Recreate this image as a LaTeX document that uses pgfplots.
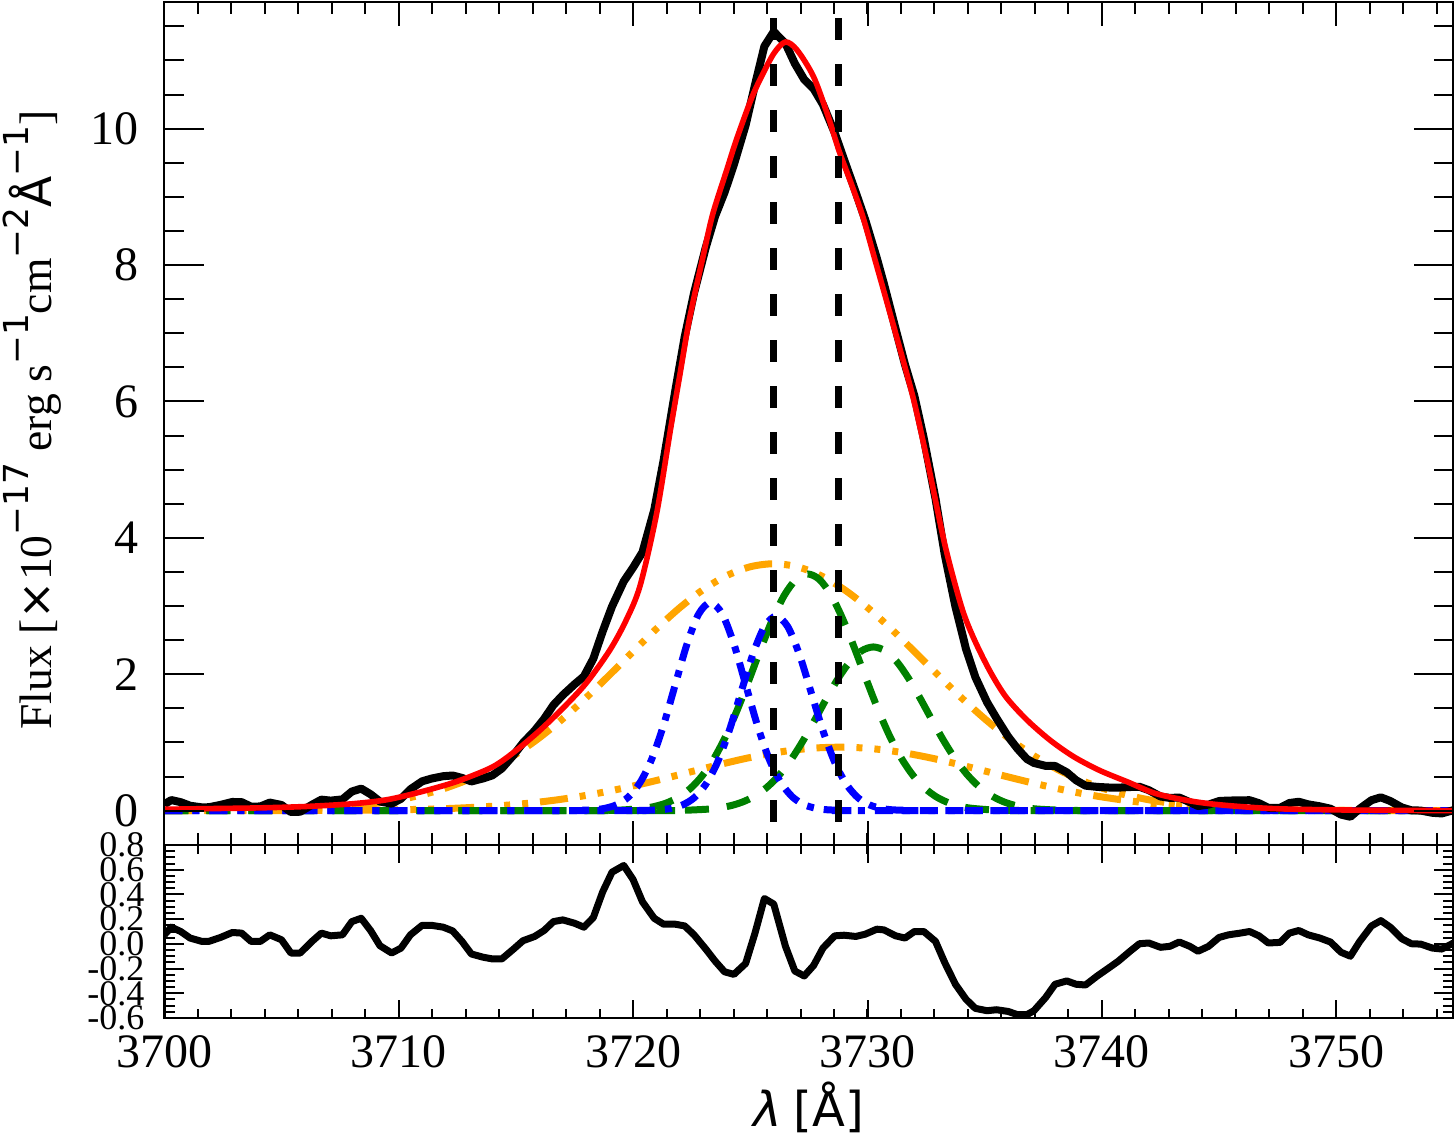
\documentclass[border=0pt]{standalone}
\usepackage{fontspec}
\setmainfont{Liberation Serif}
\newfontfamily\dv{DejaVu Sans}
\usepackage{pgfplots}
\pgfplotsset{compat=1.18}
\definecolor{cblue}{RGB}{0,0,255}
\definecolor{cgreen}{RGB}{0,128,0}
\definecolor{corange}{RGB}{255,165,0}
\definecolor{cred}{RGB}{255,0,0}
\newcommand{\sups}[1]{\raisebox{0.5em}{\fontsize{8.6}{9}\selectfont\dv #1}}
\pgfplotsset{
  base/.style={scale only axis, width=322.3pt, xmin=3700, xmax=3755,
    axis line style={line width=0.6pt}, every tick/.style={black, line width=0.5pt},
    /pgf/number format/assume math mode=true, /pgf/number format/1000 sep={},
    tick align=inside},
  bluestyle/.style={cblue, line width=1.75pt, smooth, dash pattern=on 4.5pt off 2.5pt on 1.75pt off 2.5pt},
  greenstyle/.style={cgreen, line width=1.75pt, smooth, dash pattern=on 6pt off 4.5pt},
  orangestyle/.style={corange, line width=1.75pt, smooth, dash pattern=on 7pt off 3pt on 1.5pt off 3pt on 1.5pt off 3pt on 1.5pt off 3pt},
}
\begin{document}
\begin{tikzpicture}
% ---------- lower panel (residuals) ----------
\begin{axis}[base, at={(0pt,0pt)}, anchor=south west, height=43.25pt,
  ymin=-0.6, ymax=0.8, ytick=\empty,
  xtick={3700,3710,3720,3730,3740,3750}, minor xtick={3700,3701.428571,...,3755},
  major tick length=4.5pt, minor tick length=2.25pt,
  xticklabel style={font=\fontsize{12}{12}\selectfont, anchor=base, inner sep=0pt, yshift=-12.25pt},
  axis on top]
\addplot[black, line width=1.75pt, line join=round] coordinates {
(3700.0,0.073)(3700.3,0.135)(3700.7,0.10)(3701.1,0.047)(3701.6,0.02)(3701.9,0.02)(3702.4,0.052)(3702.9,0.092)(3703.3,0.087)(3703.7,0.02)(3704.1,0.02)(3704.5,0.073)(3705.0,0.033)(3705.4,-0.074)(3705.8,-0.074)(3706.3,0.02)(3706.7,0.087)(3707.1,0.065)(3707.6,0.073)(3708.0,0.18)(3708.4,0.207)(3708.8,0.108)(3709.2,-0.015)(3709.7,-0.074)(3710.1,-0.034)(3710.5,0.073)(3711.0,0.15)(3711.4,0.15)(3711.9,0.135)(3712.3,0.105)(3712.7,0.02)(3713.1,-0.082)(3713.6,-0.108)(3714.0,-0.122)(3714.4,-0.122)(3714.9,-0.042)(3715.3,0.025)(3715.8,0.06)(3716.2,0.108)(3716.6,0.18)(3717.0,0.194)(3717.5,0.167)(3717.9,0.135)(3718.3,0.212)(3718.7,0.42)(3719.1,0.58)(3719.6,0.634)(3720.0,0.52)(3720.4,0.34)(3720.9,0.207)(3721.3,0.159)(3721.8,0.159)(3722.2,0.145)(3722.6,0.073)(3723.1,-0.042)(3723.5,-0.14)(3723.9,-0.226)(3724.3,-0.247)(3724.8,-0.159)(3725.2,0.087)(3725.6,0.367)(3726.0,0.322)(3726.5,-0.02)(3726.9,-0.22)(3727.3,-0.26)(3727.7,-0.175)(3728.1,-0.034)(3728.6,0.065)(3729.0,0.07)(3729.5,0.06)(3729.9,0.078)(3730.4,0.119)(3730.7,0.113)(3731.2,0.065)(3731.6,0.047)(3732.0,0.1)(3732.4,0.1)(3732.9,0.02)(3733.3,-0.154)(3733.75,-0.327)(3734.2,-0.448)(3734.6,-0.522)(3735.1,-0.541)(3735.5,-0.533)(3736.0,-0.547)(3736.4,-0.573)(3736.8,-0.573)(3737.1,-0.541)(3737.6,-0.434)(3738.0,-0.327)(3738.5,-0.30)(3738.9,-0.327)(3739.3,-0.333)(3739.8,-0.26)(3740.3,-0.194)(3740.7,-0.14)(3741.2,-0.06)(3741.6,0.001)(3742.0,0.007)(3742.5,-0.028)(3742.9,-0.02)(3743.3,0.015)(3743.75,-0.02)(3744.1,-0.06)(3744.55,-0.02)(3745.0,0.052)(3745.4,0.073)(3745.9,0.087)(3746.3,0.10)(3746.7,0.065)(3747.1,0.007)(3747.6,0.012)(3748.0,0.087)(3748.4,0.108)(3748.8,0.073)(3749.3,0.047)(3749.75,0.015)(3750.2,-0.068)(3750.6,-0.10)(3751.0,0.02)(3751.5,0.145)(3751.9,0.188)(3752.3,0.135)(3752.8,0.041)(3753.2,0.001)(3753.6,-0.002)(3754.1,-0.034)(3754.5,-0.042)(3755.0,0.007)
};
\end{axis}
\begin{axis}[base, at={(0pt,0pt)}, anchor=south west, height=43.25pt,
  ymin=-0.6, ymax=0.8, xtick=\empty,
  ytick={-0.6,-0.4,-0.2,0,0.2,0.4,0.6,0.8},
  yticklabels={-0.6,-0.4,-0.2,0.0,0.2,0.4,0.6,0.8},
  minor ytick={-0.6,-0.55,...,0.8},
  major tick length=5pt, minor tick length=2.7pt,
  yticklabel style={font=\fontsize{9}{9}\selectfont, anchor=east, inner sep=0pt, xshift=-4.8pt}]
\end{axis}
% ---------- upper panel ----------
\begin{axis}[base, at={(0pt,43.25pt)}, anchor=south west, height=210.8pt,
  ymin=-0.504, ymax=11.86, ytick=\empty,
  xtick={3700,3710,3720,3730,3740,3750}, xticklabels={}, minor xtick={3700,3701.428571,...,3755},
  major tick length=6pt, minor tick length=3.1pt, axis on top]
% orange broad components
\addplot[orangestyle] coordinates {
(3700,0.001)(3702,0.003)(3704,0.010)(3706,0.027)(3707,0.044)(3708,0.069)(3709,0.106)(3710,0.159)(3711,0.232)(3712,0.331)(3713,0.460)(3714,0.624)(3715,0.826)(3716,1.068)(3717,1.347)(3718,1.657)(3719,1.991)(3720,2.333)(3721,2.668)(3722,2.978)(3723,3.243)(3724,3.447)(3725,3.576)(3726,3.62)(3727,3.576)(3728,3.447)(3729,3.243)(3730,2.978)(3731,2.668)(3732,2.333)(3733,1.991)(3734,1.657)(3735,1.347)(3736,1.068)(3737,0.826)(3738,0.624)(3739,0.460)(3740,0.331)(3741,0.232)(3742,0.159)(3743,0.106)(3744,0.069)(3745,0.044)(3746,0.027)(3748,0.010)(3750,0.003)(3752,0.001)(3755,0)
};
\addplot[orangestyle] coordinates {
(3700,0)(3702.8,0.0002)(3704.8,0.0008)(3706.8,0.0025)(3708.8,0.007)(3709.8,0.011)(3710.8,0.018)(3711.8,0.027)(3712.8,0.041)(3713.8,0.060)(3714.8,0.085)(3715.8,0.118)(3716.8,0.160)(3717.8,0.212)(3718.8,0.274)(3719.8,0.346)(3720.8,0.426)(3721.8,0.511)(3722.8,0.599)(3723.8,0.685)(3724.8,0.765)(3725.8,0.833)(3726.8,0.886)(3727.8,0.919)(3728.8,0.93)(3729.8,0.919)(3730.8,0.886)(3731.8,0.833)(3732.8,0.765)(3733.8,0.685)(3734.8,0.599)(3735.8,0.511)(3736.8,0.426)(3737.8,0.346)(3738.8,0.274)(3739.8,0.212)(3740.8,0.160)(3741.8,0.118)(3742.8,0.085)(3743.8,0.060)(3744.8,0.041)(3745.8,0.027)(3746.8,0.018)(3747.8,0.011)(3748.8,0.007)(3750.8,0.0025)(3752.8,0.0008)(3755,0)
};
% green components
\addplot[greenstyle] coordinates {
(3700,0)(3717.45,0)(3718.45,0.002)(3719.45,0.008)(3720.45,0.034)(3720.95,0.064)(3721.45,0.116)(3721.95,0.199)(3722.45,0.327)(3722.95,0.512)(3723.45,0.765)(3723.95,1.090)(3724.45,1.482)(3724.95,1.922)(3725.45,2.378)(3725.95,2.805)(3726.45,3.157)(3726.95,3.389)(3727.45,3.47)(3727.95,3.389)(3728.45,3.157)(3728.95,2.805)(3729.45,2.378)(3729.95,1.922)(3730.45,1.482)(3730.95,1.090)(3731.45,0.765)(3731.95,0.512)(3732.45,0.327)(3732.95,0.199)(3733.45,0.116)(3733.95,0.064)(3734.45,0.034)(3735.45,0.008)(3736.45,0.002)(3737.45,0)(3755,0)
};
\addplot[greenstyle] coordinates {
(3700,0)(3720.25,0)(3721.25,0.001)(3722.25,0.006)(3723.25,0.023)(3723.75,0.044)(3724.25,0.080)(3724.75,0.138)(3725.25,0.226)(3725.75,0.354)(3726.25,0.529)(3726.75,0.754)(3727.25,1.025)(3727.75,1.329)(3728.25,1.644)(3728.75,1.940)(3729.25,2.184)(3729.75,2.344)(3730.25,2.40)(3730.75,2.344)(3731.25,2.184)(3731.75,1.940)(3732.25,1.644)(3732.75,1.329)(3733.25,1.025)(3733.75,0.754)(3734.25,0.529)(3734.75,0.354)(3735.25,0.226)(3735.75,0.138)(3736.25,0.080)(3736.75,0.044)(3737.25,0.023)(3738.25,0.006)(3739.25,0.001)(3740.25,0)(3755,0)
};
% blue components
\addplot[bluestyle] coordinates {
(3700,0)(3716.3,0)(3717.3,0.001)(3718.3,0.012)(3718.8,0.034)(3719.3,0.087)(3719.8,0.200)(3720.3,0.413)(3720.8,0.760)(3721.3,1.254)(3721.8,1.850)(3722.3,2.443)(3722.8,2.885)(3723.3,3.05)(3723.8,2.885)(3724.3,2.443)(3724.8,1.850)(3725.3,1.254)(3725.8,0.760)(3726.3,0.413)(3726.8,0.200)(3727.3,0.087)(3727.8,0.034)(3728.3,0.012)(3729.3,0.001)(3730.3,0)(3755,0)
};
\addplot[bluestyle] coordinates {
(3700,0)(3719.1,0)(3720.1,0.001)(3721.1,0.011)(3721.6,0.032)(3722.1,0.082)(3722.6,0.187)(3723.1,0.386)(3723.6,0.710)(3724.1,1.171)(3724.6,1.729)(3725.1,2.283)(3725.6,2.696)(3726.1,2.85)(3726.6,2.696)(3727.1,2.283)(3727.6,1.729)(3728.1,1.171)(3728.6,0.710)(3729.1,0.386)(3729.6,0.187)(3730.1,0.082)(3730.6,0.032)(3731.1,0.011)(3732.1,0.001)(3733.1,0)(3755,0)
};
% observed spectrum
\addplot[black, line width=2pt, line join=round] coordinates {
(3700.0,0.093)(3700.3,0.155)(3700.7,0.124)(3701.1,0.072)(3701.6,0.048)(3701.9,0.05)(3702.4,0.084)(3702.9,0.127)(3703.3,0.124)(3703.7,0.059)(3704.1,0.061)(3704.5,0.118)(3705.0,0.083)(3705.4,-0.02)(3705.8,-0.016)(3706.3,0.086)(3706.7,0.161)(3707.1,0.147)(3707.6,0.165)(3708.0,0.28)(3708.4,0.323)(3708.8,0.24)(3709.2,0.133)(3709.7,0.102)(3710.1,0.174)(3710.5,0.313)(3711.0,0.43)(3711.4,0.47)(3711.9,0.505)(3712.3,0.515)(3712.7,0.48)(3713.1,0.428)(3713.6,0.472)(3714.0,0.518)(3714.4,0.618)(3714.9,0.814)(3715.3,0.992)(3715.8,1.172)(3716.2,1.344)(3716.6,1.548)(3717.0,1.694)(3717.5,1.852)(3717.9,1.968)(3718.3,2.226)(3718.7,2.626)(3719.1,2.993)(3719.6,3.361)(3720.0,3.565)(3720.4,3.79)(3720.9,4.407)(3721.3,5.134)(3721.8,6.159)(3722.2,6.945)(3722.6,7.59)(3723.1,8.258)(3723.5,8.718)(3723.9,9.064)(3724.3,9.473)(3724.8,10.051)(3725.2,10.642)(3725.6,11.207)(3726.0,11.422)(3726.5,11.25)(3726.9,10.954)(3727.3,10.72)(3727.7,10.585)(3728.1,10.353)(3728.6,9.939)(3729.0,9.546)(3729.5,9.064)(3729.9,8.666)(3730.4,8.097)(3730.7,7.725)(3731.2,7.062)(3731.6,6.54)(3732.0,6.08)(3732.4,5.46)(3732.9,4.577)(3733.3,3.746)(3733.75,2.993)(3734.2,2.372)(3734.6,1.958)(3735.1,1.589)(3735.5,1.357)(3736.0,1.085)(3736.4,0.907)(3736.8,0.757)(3737.1,0.699)(3737.6,0.656)(3738.0,0.655)(3738.5,0.562)(3738.9,0.445)(3739.3,0.366)(3739.8,0.348)(3740.3,0.339)(3740.7,0.337)(3741.2,0.346)(3741.6,0.35)(3742.0,0.30)(3742.5,0.207)(3742.9,0.186)(3743.3,0.192)(3743.75,0.124)(3744.1,0.067)(3744.55,0.088)(3745.0,0.141)(3745.4,0.148)(3745.9,0.15)(3746.3,0.153)(3746.7,0.109)(3747.1,0.042)(3747.6,0.041)(3748.0,0.112)(3748.4,0.13)(3748.8,0.092)(3749.3,0.063)(3749.75,0.028)(3750.2,-0.058)(3750.6,-0.09)(3751.0,0.029)(3751.5,0.153)(3751.9,0.195)(3752.3,0.141)(3752.8,0.046)(3753.2,0.005)(3753.6,0.001)(3754.1,-0.032)(3754.5,-0.041)(3755.0,0.007)
};
% model fit
\addplot[cred, line width=1.4pt, smooth] coordinates {
(3700.0,0.02)(3702.0,0.03)(3704.0,0.04)(3706.0,0.06)(3708.0,0.10)(3709.5,0.16)(3711.0,0.28)(3712.5,0.43)(3714.0,0.64)(3715.0,0.88)(3716.0,1.17)(3717.0,1.50)(3718.0,1.87)(3719.0,2.35)(3719.7,2.79)(3720.3,3.30)(3721.0,4.35)(3721.6,5.60)(3722.0,6.40)(3722.4,7.20)(3723.0,8.15)(3723.4,8.75)(3724.0,9.40)(3724.4,9.83)(3725.0,10.40)(3725.4,10.71)(3726.0,11.10)(3726.5,11.27)(3727.0,11.15)(3727.7,10.76)(3728.3,10.20)(3728.8,9.66)(3729.3,9.20)(3729.8,8.71)(3730.3,8.10)(3730.8,7.49)(3731.4,6.75)(3732.0,5.98)(3732.6,5.05)(3733.3,3.90)(3734.0,3.00)(3734.5,2.55)(3735.2,2.06)(3735.9,1.67)(3736.8,1.33)(3737.8,1.03)(3738.8,0.79)(3739.9,0.59)(3741.1,0.42)(3742.3,0.25)(3743.8,0.14)(3745.2,0.08)(3747.3,0.03)(3750.2,0.01)(3755.0,0.0)
};
% rest wavelengths of the doublet
\addplot[black, line width=1.75pt, dash pattern=on 5.5pt off 6pt] coordinates {(3726.0,11.62)(3726.0,-0.36)};
\addplot[black, line width=1.75pt, dash pattern=on 5.5pt off 6pt] coordinates {(3728.77,11.62)(3728.77,-0.36)};
\end{axis}
\begin{axis}[base, at={(0pt,43.25pt)}, anchor=south west, height=210.8pt,
  ymin=-0.504, ymax=11.86, xtick=\empty,
  ytick={0,2,4,6,8,10}, minor ytick={-0.5,0,0.5,...,11.5},
  major tick length=10pt, minor tick length=5pt,
  yticklabel style={font=\fontsize{12}{12}\selectfont, anchor=east, inner sep=0pt, xshift=-6.3pt}]
\end{axis}
% axis titles
\node[rotate=90, anchor=center, font=\fontsize{11.4}{14}\selectfont] at (-33pt,149.5pt)
  {Flux [{\dv ×}10\sups{−17} erg s\sups{−1}cm\sups{−2}{\dv Å}\sups{−1}]};
\node[anchor=base, font=\fontsize{12}{14}\selectfont] at (161.15pt,-27pt) {{\dv\itshape λ} {\dv [Å]}};
\pgfresetboundingbox
\useasboundingbox (-41.075pt,-29.25pt) rectangle (322.425pt,254.5pt);
\end{tikzpicture}
\end{document}
